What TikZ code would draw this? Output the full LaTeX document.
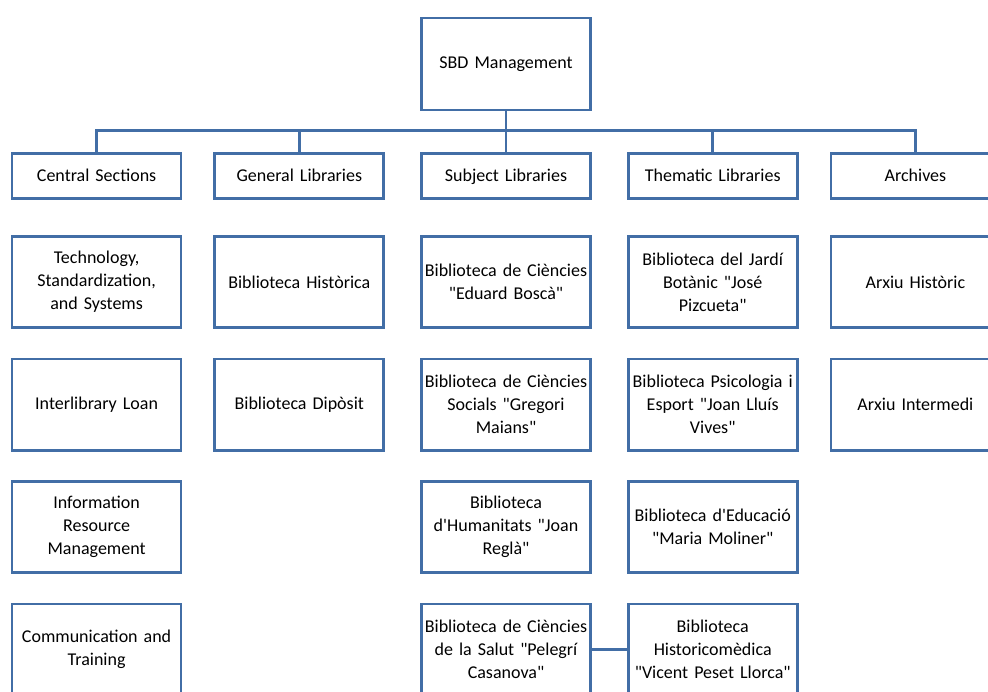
\documentclass[tikz,border=0pt]{standalone}
\usepackage{fontspec}
\setmainfont{Carlito}
\usetikzlibrary{positioning}
\definecolor{sbdblue}{RGB}{66,110,166}

\begin{document}
\begin{tikzpicture}[
  x=1pt, y=-1pt,
  node distance=35pt,
  box/.style = {
    draw=sbdblue,
    line width=2.7pt,
    shape=rectangle,
    minimum width=169pt,
    fill=white,
    align=center,
    text width=165pt,
    inner sep=1pt,
    font=\fontsize{18}{23}\selectfont
  },
  head/.style = {box, minimum height=44.5pt, text height=13pt, text depth=2pt},
  unit/.style = {box, minimum height=91.3pt},
  link/.style = {draw=sbdblue, line width=2.7pt},
]
  \clip (0,0) rectangle (988,691);

  \node (sbd)[unit, minimum height=92pt] at (506,64) {SBD Management};

  % first level
  \node (subj)[head, below=41pt of sbd] {Subject Libraries};
  \node (gen)[head, left=of subj] {General Libraries};
  \node (cent)[head, left=31pt of gen] {Central Sections};
  \node (them)[head, right=of subj] {Thematic Libraries};
  \node (arch)[head, right=31pt of them] {Archives};

  % central sections
  \node (tech)[unit, below=35.5pt of cent] {Technology,\\Standardization,\\and Systems};
  \node (ill)[unit, below=28.5pt of tech] {Interlibrary Loan};
  \node (irm)[unit, below=28.5pt of ill] {Information\\Resource\\Management};
  \node (comm)[unit, below=28.5pt of irm] {Communication and\\Training};

  % general libraries
  \node (hist)[unit, below=35.5pt of gen] {Biblioteca Històrica};
  \node (dip)[unit, below=28.5pt of hist] {Biblioteca Dipòsit};

  % subject libraries
  \node (cien)[unit, below=35.5pt of subj] {Biblioteca de Ciències\\\textquotedbl Eduard Boscà\textquotedbl};
  \node (soc)[unit, below=28.5pt of cien] {Biblioteca de Ciències\\Socials \textquotedbl Gregori\\Maians\textquotedbl};
  \node (hum)[unit, below=28.5pt of soc] {Biblioteca\\d\textquotesingle Humanitats \textquotedbl Joan\\Reglà\textquotedbl};
  \node (salut)[unit, below=28.5pt of hum] {Biblioteca de Ciències\\de la Salut \textquotedbl Pelegrí\\Casanova\textquotedbl};

  % thematic libraries
  \node (jardi)[unit, below=35.5pt of them] {Biblioteca del Jardí\\Botànic \textquotedbl José\\Pizcueta\textquotedbl};
  \node (psico)[unit, below=28.5pt of jardi] {Biblioteca Psicologia i\\Esport \textquotedbl Joan Lluís\\Vives\textquotedbl};
  \node (educ)[unit, below=28.5pt of psico] {Biblioteca d\textquotesingle Educació\\\textquotedbl Maria Moliner\textquotedbl};
  \node (histmed)[unit, below=28.5pt of educ] {Biblioteca\\Historicomèdica\\\textquotedbl Vicent Peset Llorca\textquotedbl};

  % archives
  \node (arxh)[unit, below=35.5pt of arch] {Arxiu Històric};
  \node (arxi)[unit, below=28.5pt of arxh] {Arxiu Intermedi};

  \coordinate[below=19pt of sbd.south] (bus);

  \draw[link] (sbd) -- (subj);
  \foreach \n in {cent,gen,them,arch}
    \draw[link] (bus) -| (\n);
  \draw[link] (salut) -- (histmed);
\end{tikzpicture}
\end{document}
